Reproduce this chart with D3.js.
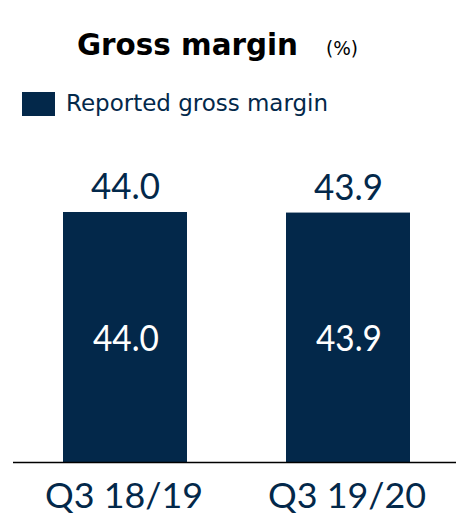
<!DOCTYPE html>
<html>
<head>
<style>
  body { margin: 0; background: #fff; }
  text { font-family: "DejaVu Sans", sans-serif; }
  text.num { font-family: "Lato", "DejaVu Sans", sans-serif; }
</style>
<script src="https://d3js.org/d3.v7.min.js"></script>
</head>
<body>
<svg id="chart" width="456" height="515"></svg>
<script>
var categories = ["Q3 18/19", "Q3 19/20"];
var values = [44.0, 43.9];
var seriesName = "Reported gross margin";

var navy = "#03284a";
var svg = d3.select("#chart");

var x = d3.scaleOrdinal().domain(categories).range([125, 348]);
var barW = 124;
var y = d3.scaleLinear().domain([0, 44]).range([462, 212]);

// title
svg.append("text").attr("x", 77).attr("y", 55).attr("fill", "#000")
  .attr("font-weight", "bold").attr("font-size", 30)
  .attr("textLength", 221).attr("lengthAdjust", "spacingAndGlyphs")
  .text("Gross margin");
svg.append("text").attr("x", 326).attr("y", 55).attr("fill", "#000")
  .attr("font-size", 20).attr("textLength", 32).attr("lengthAdjust", "spacingAndGlyphs")
  .text("(%)");

// legend
svg.append("rect").attr("x", 22).attr("y", 92).attr("width", 33).attr("height", 24).attr("fill", navy);
svg.append("text").attr("x", 66).attr("y", 111).attr("font-size", 23).attr("fill", navy)
  .attr("textLength", 262).attr("lengthAdjust", "spacingAndGlyphs")
  .text(seriesName);

// bars
svg.selectAll("rect.bar").data(values).enter().append("rect")
  .attr("class", "bar")
  .attr("x", function (d, i) { return x(categories[i]) - barW / 2; })
  .attr("y", function (d) { return y(d); })
  .attr("width", barW)
  .attr("height", function (d) { return y(0) - y(d); })
  .attr("fill", navy);

// labels above
svg.selectAll("text.top").data(values).enter().append("text")
  .attr("class", "top num")
  .attr("x", function (d, i) { return x(categories[i]) - 34; })
  .attr("y", function (d) { return y(d) - 13; })
  .attr("font-size", 36).attr("fill", navy)
  .attr("textLength", 69).attr("lengthAdjust", "spacingAndGlyphs")
  .text(function (d) { return d.toFixed(1); });

// labels inside
svg.selectAll("text.mid").data(values).enter().append("text")
  .attr("class", "mid num")
  .attr("x", function (d, i) { return x(categories[i]) - 32; })
  .attr("y", 351)
  .attr("font-size", 36).attr("fill", "#fff")
  .attr("textLength", 66).attr("lengthAdjust", "spacingAndGlyphs")
  .text(function (d) { return d.toFixed(1); });

// axis line
svg.append("line").attr("x1", 13).attr("x2", 456).attr("y1", 462.5).attr("y2", 462.5)
  .attr("stroke", "#000").attr("stroke-width", 1.5);

// category labels
svg.selectAll("text.cat").data(categories).enter().append("text")
  .attr("class", "cat num")
  .attr("x", function (d) { return x(d) - 80; })
  .attr("y", 508)
  .attr("font-size", 35).attr("fill", navy)
  .attr("textLength", 158).attr("lengthAdjust", "spacingAndGlyphs")
  .text(function (d) { return d; });
</script>
</body>
</html>
